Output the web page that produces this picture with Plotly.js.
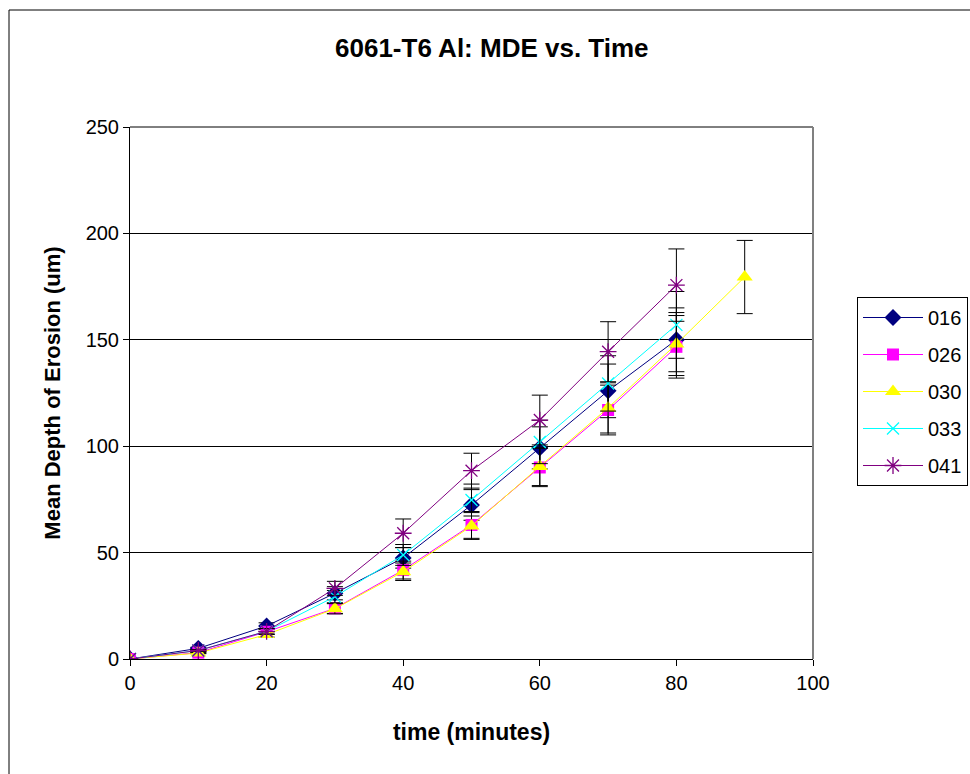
<!DOCTYPE html>
<html>
<head>
<meta charset="utf-8">
<script src="https://cdn.plot.ly/plotly-3.0.1.min.js"></script>
<style>
  html, body { margin: 0; padding: 0; background: #ffffff; }
  #chart { width: 970px; height: 774px; }
</style>
</head>
<body>
<div id="chart"></div>
<script>
// ---- data ----
const time = [0, 10, 20, 30, 40, 50, 60, 70, 80];
const time030 = [0, 10, 20, 30, 40, 50, 60, 70, 80, 90];

const mde016 = [0, 5.0, 15.5, 30.9, 47.5, 72.4, 99.2, 126, 150];
const err016 = [0, 0.5, 1.5, 3.1, 4.8, 7.2, 9.9, 12.6, 15.0];

const mde026 = [0, 3.0, 12.8, 23.8, 41.8, 63.0, 90.0, 117, 146.7];
const err026 = [0, 0.3, 1.3, 2.4, 4.2, 6.3, 9.0, 11.7, 14.7];

const mde030 = [0, 2.8, 11.5, 23.6, 41.0, 62.5, 90.5, 118, 148, 179.5];
const err030 = [0, 0.3, 1.2, 2.4, 4.1, 6.3, 9.0, 11.8, 14.8, 17.2];

const mde033 = [0, 4.0, 13.0, 29.3, 48.9, 74.7, 102, 129.5, 157];
const err033 = [0, 0.4, 1.3, 2.9, 4.9, 7.5, 10.2, 13.0, 15.7];

const mde041 = [0, 4.0, 13.0, 33.2, 59.1, 88.5, 112.3, 144.4, 175.7];
const err041 = [0, 0.4, 1.3, 3.3, 6.7, 8.2, 11.7, 14.1, 17.0];

const seriesNames = ['016', '026', '030', '033', '041'];
const xTicks = [0, 20, 40, 60, 80, 100];
const yTicks = [0, 50, 100, 150, 200, 250];

// ---- styles ----
const FONT = 'Arial, "Liberation Sans", sans-serif';
function errBar(arr) {
  return { type: 'data', array: arr, visible: true, color: '#000000', thickness: 1, width: 8 };
}

const traces = [
  { x: time, y: mde016, name: seriesNames[0], legendgroup: 'a',
    mode: 'lines+markers', line: { color: '#000080', width: 1 },
    marker: { symbol: 'diamond', size: 13, color: '#000080' }, error_y: errBar(err016) },
  { x: time, y: mde026, name: seriesNames[1], legendgroup: 'b',
    mode: 'lines+markers', line: { color: '#FF00FF', width: 1 },
    marker: { symbol: 'square', size: 12, color: '#FF00FF' }, error_y: errBar(err026) },
  { x: time030, y: mde030, name: seriesNames[2], legendgroup: 'c',
    mode: 'lines+markers', line: { color: '#FFFF00', width: 1 },
    marker: { symbol: 'triangle-up', size: 14, color: '#FFFF00' }, error_y: errBar(err030) },
  { x: time, y: mde033, name: seriesNames[3], legendgroup: 'd',
    mode: 'lines+markers', line: { color: '#00FFFF', width: 1 },
    marker: { symbol: 'x-thin-open', size: 12, color: '#00FFFF', line: { color: '#00FFFF', width: 1.3 } }, error_y: errBar(err033) },
  { x: time, y: mde041, name: seriesNames[4], legendgroup: 'e',
    mode: 'lines+markers', line: { color: '#800080', width: 1 },
    marker: { symbol: 'asterisk-open', size: 14, color: '#800080', line: { color: '#800080', width: 1.3 } }, error_y: errBar(err041) }
];

const L = 130, R = 157, T = 127, B = 115;
const W = 970 - L - R, H = 774 - T - B;
const px = v => (v - L) / W;
const py = v => (774 - B - v) / H;

const layout = {
  width: 970, height: 774,
  margin: { l: L, r: R, t: T, b: B, pad: 0 },
  paper_bgcolor: '#ffffff', plot_bgcolor: '#ffffff',
  font: { family: FONT, size: 20, color: '#000000' },
  title: { text: '<b>6061-T6 Al: MDE vs. Time</b>', font: { family: FONT, size: 26, color: '#000000' },
           xref: 'container', yref: 'container', x: 0.507, y: 1 - 48 / 774, xanchor: 'center', yanchor: 'middle' },
  showlegend: true,
  legend: { xref: 'container', yref: 'container', x: 857 / 970, y: 1 - 297 / 774,
            xanchor: 'left', yanchor: 'top', bgcolor: '#ffffff',
            bordercolor: '#000000', borderwidth: 1, font: { family: FONT, size: 20, color: '#000000' },
            traceorder: 'grouped', tracegroupgap: 8, itemwidth: 60 },
  xaxis: {
    range: [0, 100], tickvals: xTicks, ticktext: xTicks.map(String),
    showgrid: false, zeroline: false, showline: true, linecolor: '#000000', linewidth: 1,
    ticks: 'outside', ticklen: 6, tickcolor: '#000000', tickfont: { family: FONT, size: 20 },
    title: { text: '<b>time (minutes)</b>', font: { family: FONT, size: 23 }, standoff: 30 },
    automargin: false
  },
  yaxis: {
    range: [0, 250], tickvals: yTicks, ticktext: yTicks.map(String),
    showgrid: true, gridcolor: '#000000', gridwidth: 1, zeroline: false,
    showline: true, linecolor: '#000000', linewidth: 1,
    ticks: 'outside', ticklen: 6, tickcolor: '#000000', tickfont: { family: FONT, size: 20 },
    title: { text: '<b>Mean Depth of Erosion (um)</b>', font: { family: FONT, size: 22 }, standoff: 18 },
    automargin: false
  },
  shapes: [
    { type: 'line', xref: 'paper', yref: 'paper', x0: 0, x1: 1, y0: 1, y1: 1,
      line: { color: '#000000', width: 1 } },
    { type: 'line', xref: 'paper', yref: 'paper', x0: 1, x1: 1, y0: 0, y1: 1,
      line: { color: '#808080', width: 2 } },
    { type: 'rect', xref: 'paper', yref: 'paper', x0: px(9), x1: px(990), y0: py(10), y1: py(800),
      line: { color: '#000000', width: 1 }, layer: 'below' }
  ]
};

Plotly.newPlot('chart', traces, layout, { displayModeBar: false, staticPlot: true });
</script>
</body>
</html>
